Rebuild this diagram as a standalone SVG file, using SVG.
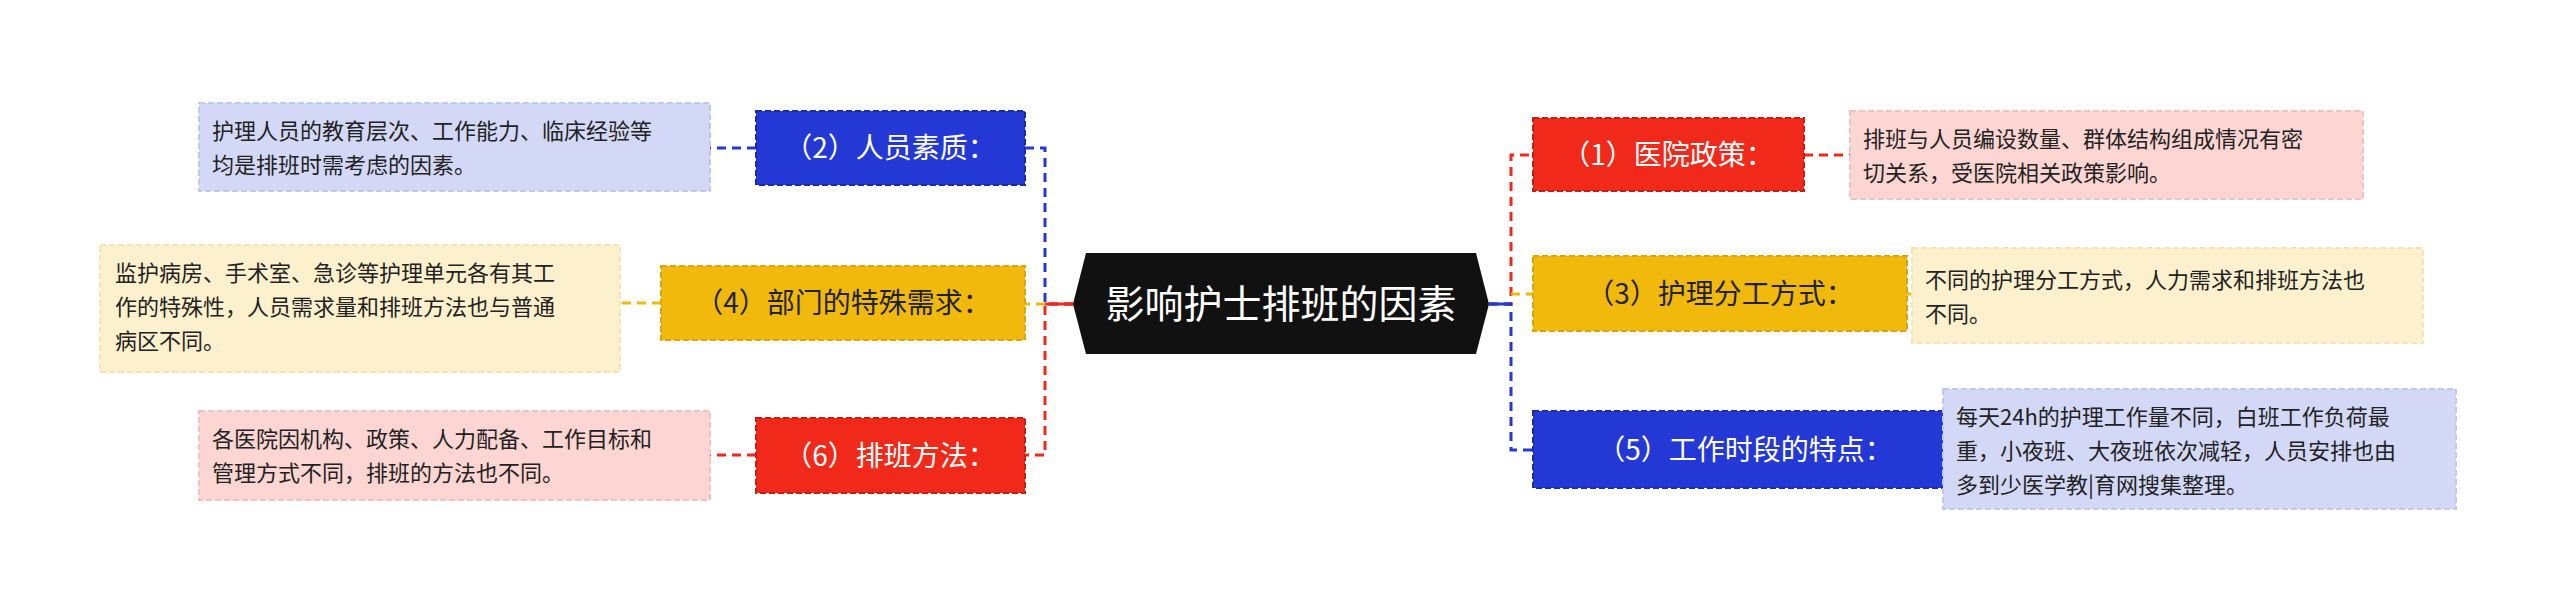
<svg xmlns="http://www.w3.org/2000/svg" width="2560" height="614" viewBox="0 0 2560 614">
<style>
.lb{font-family:"Noto Sans CJK SC","Noto Sans",sans-serif;font-size:28px;}
.ds{font-family:"Noto Sans CJK SC","Noto Sans",sans-serif;font-size:22px;fill:#222;}
.c{fill:none;stroke-width:3;stroke-dasharray:9,6;}
.nb{stroke-width:2;stroke-dasharray:6,3;}
</style>
<rect width="2560" height="614" fill="#fff"/>
<g id="connectors">
<path class="c" stroke="#2438d6" d="M1073 304H1045V148H1025"/>
<path class="c" stroke="#f0b90b" d="M1045 304H1025"/>
<path class="c" stroke="#f0291a" d="M1073 304H1045V455H1025"/>
<path class="c" stroke="#2438d6" d="M756 148H710"/>
<path class="c" stroke="#f0b90b" d="M661 303H620"/>
<path class="c" stroke="#f0291a" d="M756 455H710"/>
<path class="c" stroke="#f0291a" d="M1489 304H1511V155H1533"/>
<path class="c" stroke="#f0b90b" d="M1511 294H1533"/>
<path class="c" stroke="#2438d6" d="M1489 304H1511V450H1533"/>
<path class="c" stroke="#f0291a" d="M1804 155H1850"/>
<path class="c" stroke="#f0b90b" d="M1907 294H1912"/>
<path class="c" stroke="#2438d6" d="M1958 450H1943"/>
<path stroke="#f0291a" stroke-width="3" d="M1045 304H1073"/>
<path stroke="#2438d6" stroke-width="3" d="M1489 304H1511"/>
</g>
<g id="center">
<polygon points="1073,304 1086,253 1476,253 1489,304 1476,354 1086,354" fill="#111"/>
<text x="1281" y="318" text-anchor="middle" class="lb" style="font-size:39px" fill="#fff">影响护士排班的因素</text>
</g>
<g id="n2"><rect class="nb" x="756" y="111" width="269" height="74" fill="#2438d6" stroke="#1a2aa8"/><text x="890" y="158" text-anchor="middle" class="lb" fill="#fff">（2）人员素质：</text></g>
<g id="d2"><rect class="nb" x="199" y="103" width="511" height="88" fill="#d4d8f7" stroke="#c3c8ee"/><text class="ds" x="212" y="139">护理人员的教育层次、工作能力、临床经验等</text><text class="ds" x="212" y="173">均是排班时需考虑的因素。</text></g>
<g id="n4"><rect class="nb" x="661" y="266" width="364" height="74" fill="#f0b90b" stroke="#d9a508"/><text x="843" y="313" text-anchor="middle" class="lb" fill="#222">（4）部门的特殊需求：</text></g>
<g id="d4"><rect class="nb" x="100" y="245" width="520" height="127" fill="#fdf0cc" stroke="#f3e3b5"/><text class="ds" x="115" y="281">监护病房、手术室、急诊等护理单元各有其工</text><text class="ds" x="115" y="315">作的特殊性，人员需求量和排班方法也与普通</text><text class="ds" x="115" y="349">病区不同。</text></g>
<g id="n6"><rect class="nb" x="756" y="418" width="269" height="75" fill="#f0291a" stroke="#c81e12"/><text x="890" y="466" text-anchor="middle" class="lb" fill="#fff">（6）排班方法：</text></g>
<g id="d6"><rect class="nb" x="199" y="411" width="511" height="89" fill="#fdd5d2" stroke="#f2c2be"/><text class="ds" x="212" y="447">各医院因机构、政策、人力配备、工作目标和</text><text class="ds" x="212" y="481">管理方式不同，排班的方法也不同。</text></g>
<g id="n1"><rect class="nb" x="1533" y="118" width="271" height="73" fill="#f0291a" stroke="#c81e12"/><text x="1668" y="165" text-anchor="middle" class="lb" fill="#fff">（1）医院政策：</text></g>
<g id="d1"><rect class="nb" x="1850" y="111" width="513" height="88" fill="#fdd5d2" stroke="#f2c2be"/><text class="ds" x="1863" y="147">排班与人员编设数量、群体结构组成情况有密</text><text class="ds" x="1863" y="181">切关系，受医院相关政策影响。</text></g>
<g id="n3"><rect class="nb" x="1533" y="256" width="374" height="75" fill="#f0b90b" stroke="#d9a508"/><text x="1720" y="304" text-anchor="middle" class="lb" fill="#222">（3）护理分工方式：</text></g>
<g id="d3"><rect class="nb" x="1912" y="248" width="511" height="95" fill="#fdf0cc" stroke="#f3e3b5"/><text class="ds" x="1925" y="288">不同的护理分工方式，人力需求和排班方法也</text><text class="ds" x="1925" y="322">不同。</text></g>
<g id="n5"><rect class="nb" x="1533" y="411" width="425" height="77" fill="#2438d6" stroke="#1a2aa8"/><text x="1745" y="460" text-anchor="middle" class="lb" fill="#fff">（5）工作时段的特点：</text></g>
<g id="d5"><rect class="nb" x="1943" y="389" width="513" height="120" fill="#d4d8f7" stroke="#c3c8ee"/><text class="ds" x="1956" y="425">每天24h的护理工作量不同，白班工作负荷最</text><text class="ds" x="1956" y="459">重，小夜班、大夜班依次减轻，人员安排也由</text><text class="ds" x="1956" y="493">多到少医学教|育网搜集整理。</text></g>
</svg>
